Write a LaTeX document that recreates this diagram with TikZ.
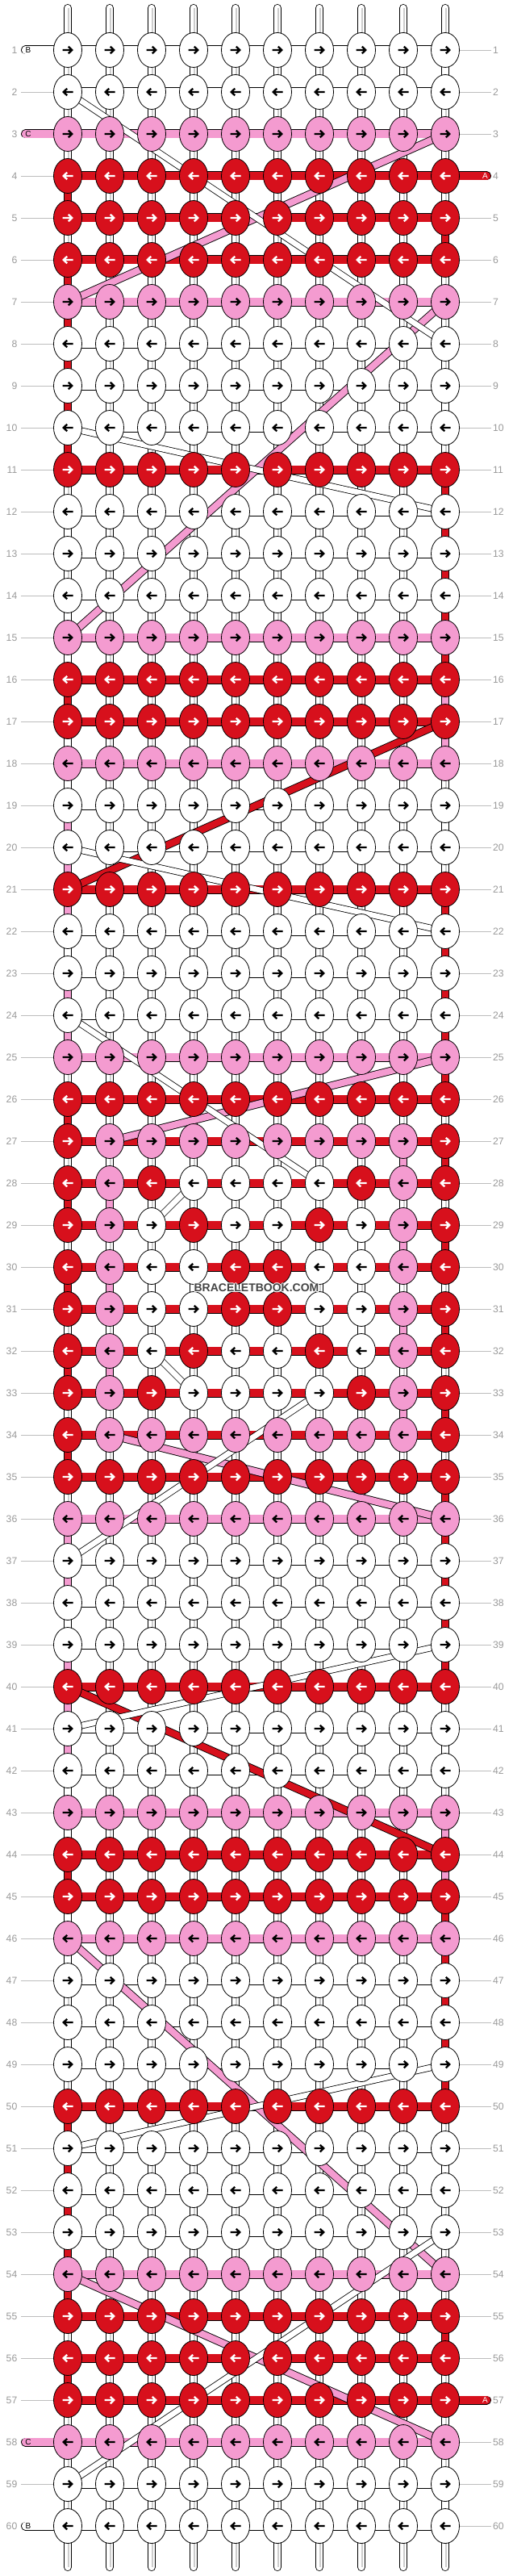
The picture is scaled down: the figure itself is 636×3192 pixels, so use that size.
\documentclass[tikz,border=0pt]{standalone}
\usepackage{fontspec}
\setmainfont{Liberation Sans}
\usetikzlibrary{shapes.geometric}
\definecolor{kW}{HTML}{FFFFFF}
\definecolor{kR}{HTML}{D7101C}
\definecolor{kP}{HTML}{F49BD0}
\colorlet{aW}{black}
\colorlet{aP}{black}
\colorlet{aR}{white}
\definecolor{lblgray}{HTML}{9A9A9A}
\definecolor{linegray}{HTML}{BDBDBD}
\definecolor{strgray}{HTML}{CDCDCD}
\definecolor{wmgray}{HTML}{444444}
\pgfdeclarelayer{bg}
\pgfdeclarelayer{mid}
\pgfsetlayers{bg,mid,main}
\newcommand\restseg[3]{%
  \pgfmathtruncatemacro\rnext{#2+1}%
  \draw[black,line width=10pt] (k-#2-#1.center) -- (k-\rnext-#1.center);%
  \draw[#3,line width=8.4pt] (k-#2-#1.center) -- (k-\rnext-#1.center);%
}
\newcommand\bandseg[7]{%
  \draw[black,line width=#6] (k-#1-#2.center) -- (k-#3-#4.center);%
  \draw[#5,line width=#7] (k-#1-#2.center) -- (k-#3-#4.center);%
}
\def\rowlist{1/W,2/W,3/P,4/R,5/R,6/R,7/P,8/W,9/W,10/W,11/R,12/W,13/W,14/W,15/P,16/R,17/R,18/P,19/W,20/W,21/R,22/W,23/W,24/W,25/P,26/R,27/R,28/R,29/R,30/R,31/R,32/R,33/R,34/R,35/R,36/P,37/W,38/W,39/W,40/R,41/W,42/W,43/P,44/R,45/R,46/P,47/W,48/W,49/W,50/R,51/W,52/W,53/W,54/P,55/R,56/R,57/R,58/P,59/W,60/W}
\begin{document}
\begin{tikzpicture}[x=1pt,y=-1pt,
  knot/.style={ellipse,draw=black,line width=0.8pt,minimum width=35pt,minimum height=43pt,inner sep=0pt},
  arr/.style={line width=2.3pt,line cap=butt,line join=miter},
  lbl/.style={text=lblgray,inner sep=0pt,font=\fontsize{12.2}{12.2}\selectfont},
  guide/.style={draw=linegray,line width=0.9pt},
  pilltxt/.style={inner sep=0pt,font=\fontsize{10}{10}\selectfont},
  wm/.style={inner sep=0pt,font=\bfseries\fontsize{14}{14}\selectfont}]
\useasboundingbox (0,0) rectangle (636,3192);

% ---------- knots (uniform rows)
\foreach \r/\b in \rowlist {
  \ifodd\r\relax\def\dir{1}\else\def\dir{-1}\fi
  \ifnum\r<27\relax\def\mix{0}\else\ifnum\r>34\relax\def\mix{0}\else\def\mix{1}\fi\fi
  \ifnum\mix=0\relax
  \foreach \c in {1,...,10} {
    \node[knot,fill=k\b] (k-\r-\c) at ({32+52*\c},{10+52*\r}) {};
    \draw[arr,draw=a\b,shift={(k-\r-\c.center)},xscale=\dir] (-6.5,0) -- (5,0) (0.8,-4.3) -- (5.2,0) -- (0.8,4.3);
  }
  \fi
}
% ---------- knots (mixed rows)
\foreach \r/\ks in {27/{R,P,P,P,P,P,P,P,P,R},28/{R,P,R,W,W,W,W,R,P,R},29/{R,P,W,R,W,W,R,W,P,R},30/{R,P,W,W,R,R,W,W,P,R},31/{R,P,W,W,R,R,W,W,P,R},32/{R,P,W,R,W,W,R,W,P,R},33/{R,P,R,W,W,W,W,R,P,R},34/{R,P,P,P,P,P,P,P,P,R}} {
  \ifodd\r\relax\def\dir{1}\else\def\dir{-1}\fi
  \foreach \k [count=\c] in \ks {
    \node[knot,fill=k\k] (k-\r-\c) at ({32+52*\c},{10+52*\r}) {};
    \draw[arr,draw=a\k,shift={(k-\r-\c.center)},xscale=\dir] (-6.5,0) -- (5,0) (0.8,-4.3) -- (5.2,0) -- (0.8,4.3);
  }
}

\begin{pgfonlayer}{bg}
\fill[white] (0,0) rectangle (636,3192);
% ---------- vertical strings
\foreach \c in {1,...,10} {
  \coordinate (top-\c) at ({32+52*\c},10);
  \coordinate (bot-\c) at ({32+52*\c},3181);
  \draw[black,line width=10pt,line cap=round] (top-\c) -- (bot-\c);
  \draw[white,line width=8.4pt,line cap=round] (top-\c) -- (bot-\c);
  \draw[strgray,line width=1.2pt] ([xshift=1pt]top-\c) -- ([xshift=1pt]bot-\c);
}
% ---------- resting working strings (C, then B, then A on top)
\foreach \r in {15,16,17,43,44,45} {\restseg{10}{\r}{kP}}
\foreach \r in {18,...,24} {\restseg{1}{\r}{kP}}
\foreach \r in {36,...,42} {\restseg{1}{\r}{kP}}
\foreach \r in {27,29,31,33} {\restseg{9}{\r}{kP}}
\foreach \r in {28,30,32} {\restseg{2}{\r}{kP}}
\foreach \r in {1,9,13,19,23,37,41,47,51,59} {\restseg{10}{\r}{kW}}
\foreach \r in {8,12,14,15,16,17,18,22,38,42,43,44,45,46,48,52} {\restseg{1}{\r}{kW}}
\restseg{8}{29}{kW}
\restseg{8}{31}{kW}
\restseg{3}{30}{kW}
\foreach \r in {4,6,7,8,9,10,16,26,28,30,32,34,44,50,51,52,53,54,56} {\restseg{1}{\r}{kR}}
\foreach \r in {5,11,12,13,14,15,21,22,23,24,25,27,29,31,33,35,36,37,38,39,45,46,47,48,49,55} {\restseg{10}{\r}{kR}}
% ---------- horizontal working strings
\foreach \r/\b in \rowlist {
  \draw[black,line width=11pt] (k-\r-1.center) -- (k-\r-10.center);
  \draw[k\b,line width=9.2pt] (k-\r-1.center) -- (k-\r-10.center);
}
% ---------- row numbers and guides
\foreach \r in {1,...,60} {
  \node[lbl,anchor=east] (nl-\r) at (21.5,{10+52*\r}) {\r};
  \node[lbl,anchor=west] (nr-\r) at (611,{10+52*\r}) {\r};
}
\foreach \r in {2,4,5,...,57,59} {
  \coordinate (gl-\r) at (26,{10+52*\r});
  \draw[guide] (gl-\r) -- (k-\r-1.center);
}
\foreach \r in {1,2,3,5,6,...,56,58,59,60} {
  \coordinate (gr-\r) at (609,{10+52*\r});
  \draw[guide] (gr-\r) -- (k-\r-10.center);
}
% ---------- string end pills
\foreach \r/\col/\t in {1/kW/B,3/kP/C,58/kP/C,60/kW/B} {
  \coordinate (pl-\r) at (31.5,{10+52*\r});
  \draw[black,line width=11pt,line cap=round] (pl-\r) -- (k-\r-1.center);
  \draw[\col,line width=9.2pt,line cap=round] (pl-\r) -- (k-\r-1.center);
  \node[pilltxt,text=black] (pt-\r) at (35,{10+52*\r}) {\t};
}
\foreach \r/\col/\t in {4/kR/A,57/kR/A} {
  \coordinate (pr-\r) at (603.5,{10+52*\r});
  \draw[black,line width=11pt,line cap=round] (k-\r-10.center) -- (pr-\r);
  \draw[\col,line width=9.2pt,line cap=round] (k-\r-10.center) -- (pr-\r);
  \node[pilltxt,text=white] (pt-\r) at (601.5,{10+52*\r}) {\t};
}
\end{pgfonlayer}

% ---------- diagonal strings behind the knots
\begin{pgfonlayer}{mid}
\foreach \ra/\ca/\rb/\cb in {3/10/7/1,7/10/15/1,25/10/27/2,34/2/36/10,46/1/54/10,54/1/58/10} {\bandseg{\ra}{\ca}{\rb}{\cb}{kP}{10pt}{8.2pt}}
\foreach \ra/\ca/\rb/\cb in {17/10/21/1,40/1/44/10} {\bandseg{\ra}{\ca}{\rb}{\cb}{kR}{10pt}{8.2pt}}
\foreach \ra/\ca/\rb/\cb in {2/1/8/10,10/1/12/10,20/1/22/10,24/1/28/7,28/4/29/3,32/3/33/4,33/7/37/1,39/10/41/1,49/10/51/1,53/10/59/1} {\bandseg{\ra}{\ca}{\rb}{\cb}{kW}{8.4pt}{6.8pt}}
\end{pgfonlayer}

% ---------- watermark
\foreach \dx/\dy [count=\i] in {-1/0,1/0,0/-1,0/1,-0.8/-0.8,0.8/0.8,-0.8/0.8,0.8/-0.8} {
  \node[wm,text=white] (wmh\i) at ({318+\dx},{1596+\dy}) {BRACELETBOOK.COM};
}
\node[wm,text=wmgray] (wm) at (318,1596) {BRACELETBOOK.COM};
\end{tikzpicture}
\end{document}
